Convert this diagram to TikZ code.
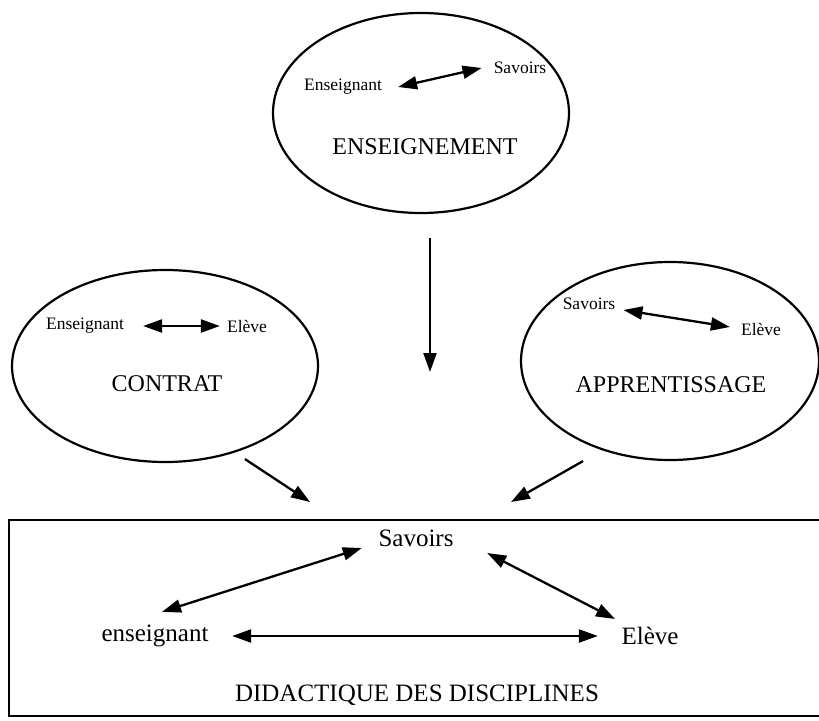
\documentclass[tikz,border=0pt]{standalone}
\usepackage{fontspec}
\setmainfont{Liberation Serif}
\usetikzlibrary{arrows.meta,shapes.geometric}
\begin{document}
\begin{tikzpicture}[x=1pt,y=-1pt,
  oval/.style={draw,ellipse,line width=2.2pt,inner sep=0pt},
  small/.style={inner sep=0pt,font=\fontsize{17.5}{20}\selectfont},
  big/.style={inner sep=0pt,font=\fontsize{24}{28}\selectfont},
  boxtxt/.style={inner sep=0pt,font=\fontsize{25}{29}\selectfont},
  tip/.style={Triangle[length=19pt,width=13pt]},
  arr/.style={-{Triangle[length=19pt,width=13pt]},line width=2.3pt},
  darr/.style={{Triangle[length=19pt,width=13pt]}-{Triangle[length=19pt,width=13pt]},line width=2.3pt}]
\useasboundingbox (0,0) rectangle (819,720);

% top ellipse
\node[oval,minimum width=296pt,minimum height=200pt] (E1) at (421,113) {};
\node[small] (t1e) at (343,87) {Enseignant};
\node[small] (t1s) at (520,68) {Savoirs};
\node[big] (t1) at (425,147) {ENSEIGNEMENT};
\draw[darr] ([xshift=16pt]t1e.east) -- ([xshift=-12pt]t1s.west);

% left ellipse
\node[oval,minimum width=306pt,minimum height=192pt] (E2) at (165,366) {};
\node[small] (t2e) at (85,326) {Enseignant};
\node[small] (t2l) at (247,326) {Elève};
\node[big] (t2) at (167,384) {CONTRAT};
\draw[darr] ([xshift=19pt]t2e.east) -- ([xshift=-7pt]t2l.west);

% right ellipse
\node[oval,minimum width=298pt,minimum height=198pt] (E3) at (670,361) {};
\node[small] (t3s) at (589,304) {Savoirs};
\node[small] (t3l) at (761,329) {Elève};
\node[big] (t3) at (671,385) {APPRENTISSAGE};
\draw[darr] ([shift={(8pt,-6pt)}]t3s.east) -- ([shift={(-11pt,2pt)}]t3l.west);

% arrows towards the box
\coordinate (c1) at (430,372);
\coordinate (c2) at (310,502);
\coordinate (c3) at (511,502);
\draw[arr] ([shift={(9pt,-24pt)}]E1.south) -- (c1);
\draw[arr] ([shift={(80pt,4pt)}]E2.south) -- (c2);
\draw[arr] ([xshift=-87pt]E3.south) -- (c3);

% box (right side off the picture)
\draw[line width=2.6pt] (822,520) -- (9,520) -- (9,716) -- (822,716);

\node[boxtxt] (sav) at (416,538) {Savoirs};
\node[boxtxt] (ens) at (155,636) {enseignant};
\node[boxtxt] (elv) at (650,636) {Elève};
\node[boxtxt] (did) at (417,695) {DIDACTIQUE DES DISCIPLINES};

\draw[darr] ([shift={(-16.5pt,-10pt)}]sav.west) -- ([shift={(7pt,13pt)}]ens.north);
\draw[darr] ([shift={(33.5pt,-15pt)}]sav.east) -- ([shift={(-35pt,8pt)}]elv.north);
\draw[darr] ([xshift=23.5pt]ens.east) -- ([xshift=-23.5pt]elv.west);
\end{tikzpicture}
\end{document}
